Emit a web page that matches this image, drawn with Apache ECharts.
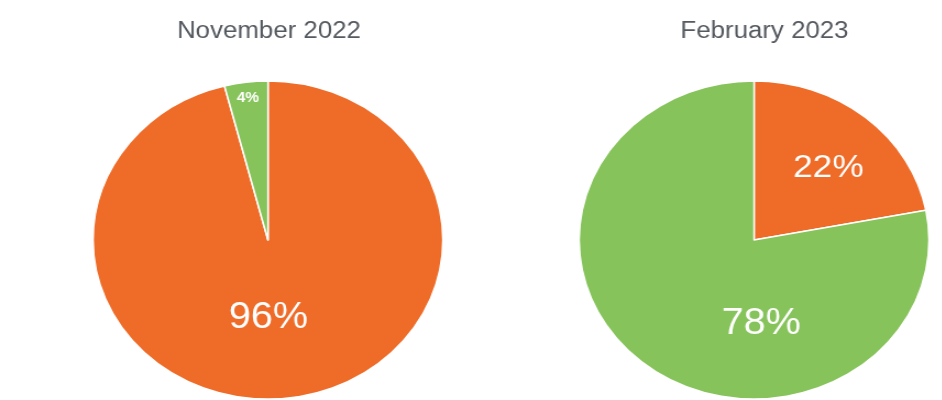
<!DOCTYPE html>
<html>
<head>
<meta charset="utf-8">
<script src="https://cdn.jsdelivr.net/npm/echarts@6/dist/echarts.min.js"></script>
<style>
html,body{margin:0;padding:0;background:#fff;overflow:hidden;}
#wrap{width:942px;height:400px;overflow:hidden;}
#c{width:857px;height:400px;transform:scale(1.1,1);transform-origin:0 0;}
</style>
</head>
<body>
<div id="wrap"><div id="c"></div></div>
<script>
const titles = ['November 2022', 'February 2023'];
const categories = ['Orange', 'Green'];
const nov2022 = [96, 4];
const feb2023 = [22, 78];
const colors = ['#EE6B28', '#86C35A'];
// label nudges (px) to match reference placement
const novOffsets = [[-10, -4], [-8, -60]];
const febOffsets = [[15, -8], [59, 21]];
const novFont = [{size: 36, weight: 'normal'}, {size: 14, weight: 'bold'}];
const febFont = [{size: 32, weight: 'normal'}, {size: 36, weight: 'normal'}];

function buildData(values, offsets, fonts) {
  return values.map((v, i) => ({
    name: categories[i],
    value: v,
    itemStyle: {color: colors[i]},
    label: {offset: offsets[i], fontSize: fonts[i].size, fontWeight: fonts[i].weight}
  }));
}

const chart = echarts.init(document.getElementById('c'));
const pieBase = {
  type: 'pie',
  radius: 159,
  startAngle: 90,
  clockwise: true,
  silent: true,
  animation: false,
  label: {
    show: true,
    position: 'inside',
    color: '#ffffff',
    fontFamily: 'Liberation Sans, Arial, sans-serif',
    formatter: '{c}%'
  },
  labelLine: {show: false},
  itemStyle: {borderColor: '#ffffff', borderWidth: 1.5}
};
const titleStyle = {fontSize: 23.5, fontWeight: 'normal', color: '#555a60', fontFamily: 'Liberation Sans, Arial, sans-serif'};
chart.setOption({
  animation: false,
  title: [
    {text: titles[0], left: 244.5, top: 20, textAlign: 'center', padding: 0, textStyle: titleStyle},
    {text: titles[1], left: 695, top: 20, textAlign: 'center', padding: 0, textStyle: titleStyle}
  ],
  series: [
    Object.assign({}, pieBase, {center: [243.6, 240], data: buildData(nov2022, novOffsets, novFont)}),
    Object.assign({}, pieBase, {center: [685.5, 240], data: buildData(feb2023, febOffsets, febFont)})
  ]
});
</script>
</body>
</html>
